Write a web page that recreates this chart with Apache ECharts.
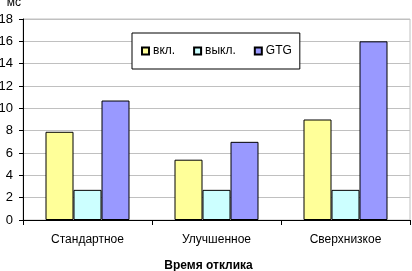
<!DOCTYPE html>
<html>
<head>
<meta charset="utf-8">
<script src="https://cdn.jsdelivr.net/npm/echarts@6/dist/echarts.min.js"></script>
<style>
  html, body { margin: 0; padding: 0; background: #fff; }
  #chart { width: 412px; height: 271px; }
</style>
</head>
<body>
<div id="chart"></div>
<script>
const categories = ['Стандартное', 'Улучшенное', 'Сверхнизкое'];
const seriesNames = ['вкл.', 'выкл.', 'GTG'];
const onValues = [7.9, 5.4, 9.0];
const offValues = [2.7, 2.7, 2.7];
const gtgValues = [10.7, 7.0, 16.0];
const colors = ['#FFFF99', '#CCFFFF', '#9999FF'];

const font = 'Liberation Sans, Arial, sans-serif';

function bar(name, data, color) {
  return {
    name: name,
    type: 'bar',
    data: data,
    barWidth: 28,
    barGap: '0%',
    itemStyle: { color: color, borderColor: '#000', borderWidth: 1 },
    emphasis: { disabled: true }
  };
}

const chart = echarts.init(document.getElementById('chart'));
chart.setOption({
  animation: false,
  textStyle: { fontFamily: font },
  grid: {
    left: 23, right: 2, top: 19, bottom: 51,
    outerBoundsMode: 'none',
    containLabel: false,
    show: true, borderColor: '#c0c0c0', borderWidth: 1, backgroundColor: 'transparent'
  },
  legend: {
    left: 132, top: 33,
    padding: [12, 8, 12, 9],
    itemWidth: 7, itemHeight: 7, itemGap: 18,
    icon: 'rect',
    backgroundColor: '#fff',
    borderColor: '#000', borderWidth: 1,
    textStyle: { fontSize: 12, color: '#000', fontFamily: font, padding: [0, 0, 0, -1] },
    data: seriesNames
  },
  xAxis: {
    type: 'category',
    data: categories,
    name: 'Время отклика',
    nameLocation: 'middle',
    nameGap: 40,
    nameTextStyle: { fontSize: 12, fontWeight: 'bold', color: '#000', fontFamily: font, padding: [0, 16, 0, 0] },
    axisLine: { lineStyle: { color: '#000', width: 1 } },
    axisTick: { show: true, length: 5, lineStyle: { color: '#000' } },
    axisLabel: { fontSize: 12, color: '#000', margin: 14, fontFamily: font }
  },
  yAxis: {
    type: 'value',
    min: 0, max: 18, interval: 2,
    name: 'мс',
    nameGap: 10,
    nameTextStyle: { fontSize: 12, color: '#000', align: 'right', padding: [0, 2, 0, 0], fontFamily: font },
    axisLine: { show: true, lineStyle: { color: '#000', width: 1 } },
    axisTick: { show: true, length: 4, lineStyle: { color: '#000' } },
    axisLabel: { fontSize: 13, color: '#000', margin: 10, fontFamily: 'Liberation Sans Narrow, Arial Narrow, sans-serif' },
    splitLine: { lineStyle: { color: '#c0c0c0', width: 1 } }
  },
  series: [
    bar(seriesNames[0], onValues, colors[0]),
    bar(seriesNames[1], offValues, colors[1]),
    bar(seriesNames[2], gtgValues, colors[2])
  ]
});
</script>
</body>
</html>
